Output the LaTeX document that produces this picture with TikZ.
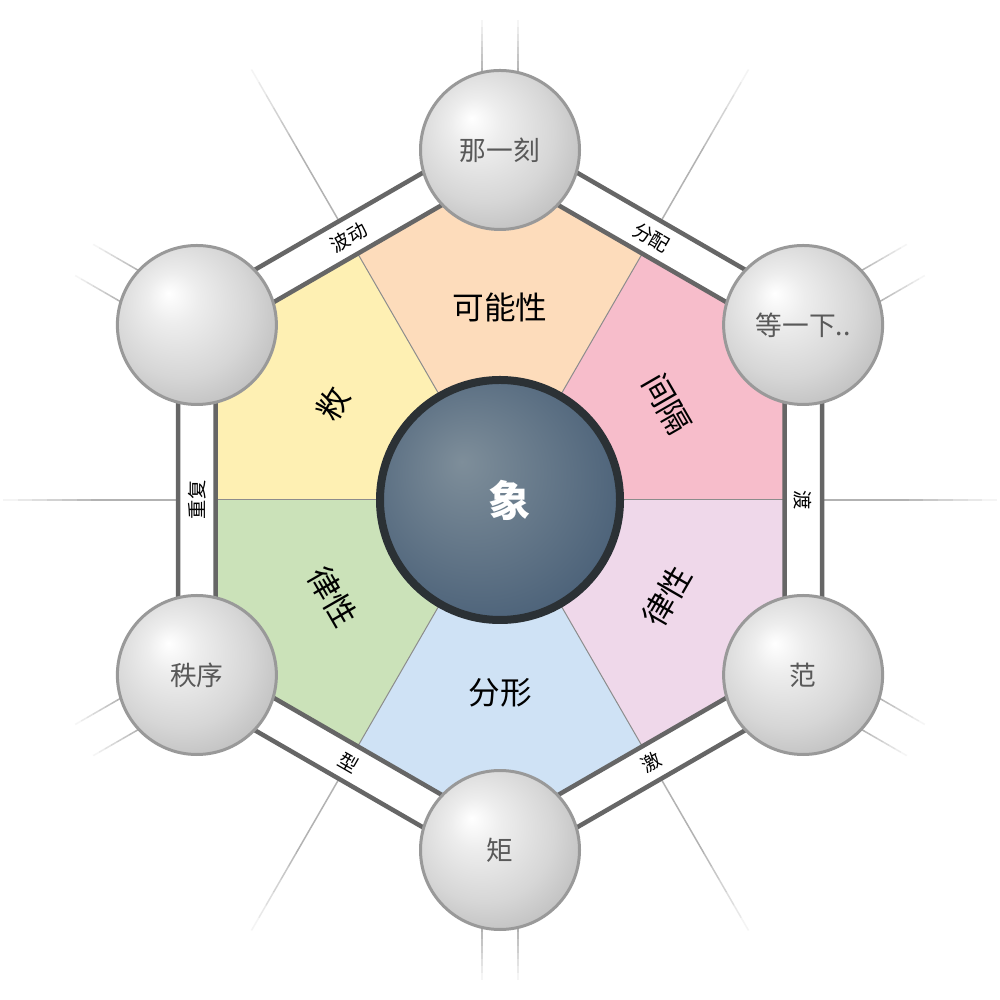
\documentclass[tikz,border=0pt]{standalone}
\usepackage{fontspec}
\newfontfamily\cjk{Noto Sans CJK SC}
\usepackage{tikz}

\definecolor{peach}{HTML}{FDDCBB}
\definecolor{rose}{HTML}{F7BDCB}
\definecolor{lilac}{HTML}{EFD8EA}
\definecolor{skyblue}{HTML}{CFE2F5}
\definecolor{leaf}{HTML}{CBE2B9}
\definecolor{lemon}{HTML}{FEF0B3}
\definecolor{bandgray}{HTML}{666666}
\definecolor{slatehi}{HTML}{7E8E9A}
\definecolor{slatelo}{HTML}{4C6279}
\definecolor{rimdark}{HTML}{2B3135}

\pgfdeclareradialshading{sphereball}{\pgfpoint{-9bp}{10bp}}{color(0bp)=(white); color(8bp)=(black!7); color(22bp)=(black!16); color(34bp)=(black!27); color(50bp)=(black!30)}
\pgfdeclareradialshading{coreball}{\pgfpoint{-8bp}{8bp}}{color(0bp)=(slatehi); color(30bp)=(slatelo); color(50bp)=(slatelo)}

\begin{document}
\begin{tikzpicture}[
  band/.style={draw=bandgray, line width=0.045cm},
  divider/.style={draw=black!45, line width=0.01cm},
  ray/.style={draw=gray!60, line width=0.015cm},
  sphere/.style={circle, minimum size=1.59cm, inner sep=0pt, draw=black!40, line width=0.03cm,
    shade, shading=sphereball, text=black!65, font=\cjk\fontsize{7.6}{9}\selectfont},
  core/.style={circle, minimum size=2.4cm, inner sep=0pt, draw=rimdark, line width=0.08cm,
    shade, shading=coreball, text=white, font=\cjk\bfseries\fontsize{12}{14}\selectfont},
  sectorlabel/.style={inner sep=0pt, font=\cjk\fontsize{9}{10}\selectfont},
  bandlabel/.style={inner sep=0pt, font=\cjk\fontsize{5.5}{6}\selectfont}
]
\path[use as bounding box, fill=white] (-5,-5) rectangle (5,5);
\coordinate (o) at (0,0);

% faint rays
\foreach \a in {0,60,...,300}
  \foreach \i in {0,...,11} {
    \pgfmathsetmacro\op{min(1,(12-\i)/7)}
    \draw[ray, draw opacity=\op] (\a:{3.2+0.1475*\i}) -- (\a:{3.3475+0.1475*\i});
  }
\foreach \a in {90,30,-30,-90,-150,150}
  \foreach \s in {-0.18,0.18}
    \foreach \i in {0,...,7} {
      \pgfmathsetmacro\op{(8-\i)/8}
      \draw[ray, draw opacity=\op, shift={(\a+90:\s)}] (\a:{4.25+0.06875*\i}) -- (\a:{4.31875+0.06875*\i});
    }

% band
\draw[band] (90:3.718) \foreach \a in {30,-30,-90,-150,150} { -- (\a:3.718) } -- cycle;
\foreach \a/\c in {90/peach,30/rose,-30/lilac,-90/skyblue,-150/leaf,150/lemon}
  \fill[\c] (o) -- ({\a-30}:2.845) -- (\a:3.285) -- ({\a+30}:2.845) -- cycle;
\foreach \a in {0,60,...,300}
  \draw[divider] (o) -- (\a:2.845);
\draw[band] (90:3.285) \foreach \a in {30,-30,-90,-150,150} { -- (\a:3.285) } -- cycle;

\foreach \a/\t/\r in {0/渡/-90, 60/分配/-30, 120/波动/30, 180/重复/90, 240/型/-30, 300/激/30}
  \node[bandlabel, rotate=\r] (band\a) at (\a:3.03) {\t};

\foreach \a/\t/\r in {90/可能性/0, 30/间隔/-60, -30/律性/60, -90/分形/0, -150/律性/-60, 150/敉/60}
  \node[sectorlabel, rotate=\r] (sec\a) at (\a:1.93) {\t};

% spheres
\node[sphere] (nayike) at (90:3.5) {那一刻};
\node[sphere] (dengyixia) at (30:3.5) {等一下..};
\node[sphere] (fan) at (-30:3.5) {范\hspace{0.12cm}};
\node[sphere] (ju) at (-90:3.5) {矩\hspace{0.14cm}};
\node[sphere] (zhixu) at (-150:3.5) {秩序};
\node[sphere] (kong) at (150:3.5) {};

\node[core] (xiang) at (o) {\hspace{0.2cm}象};

\end{tikzpicture}
\end{document}
